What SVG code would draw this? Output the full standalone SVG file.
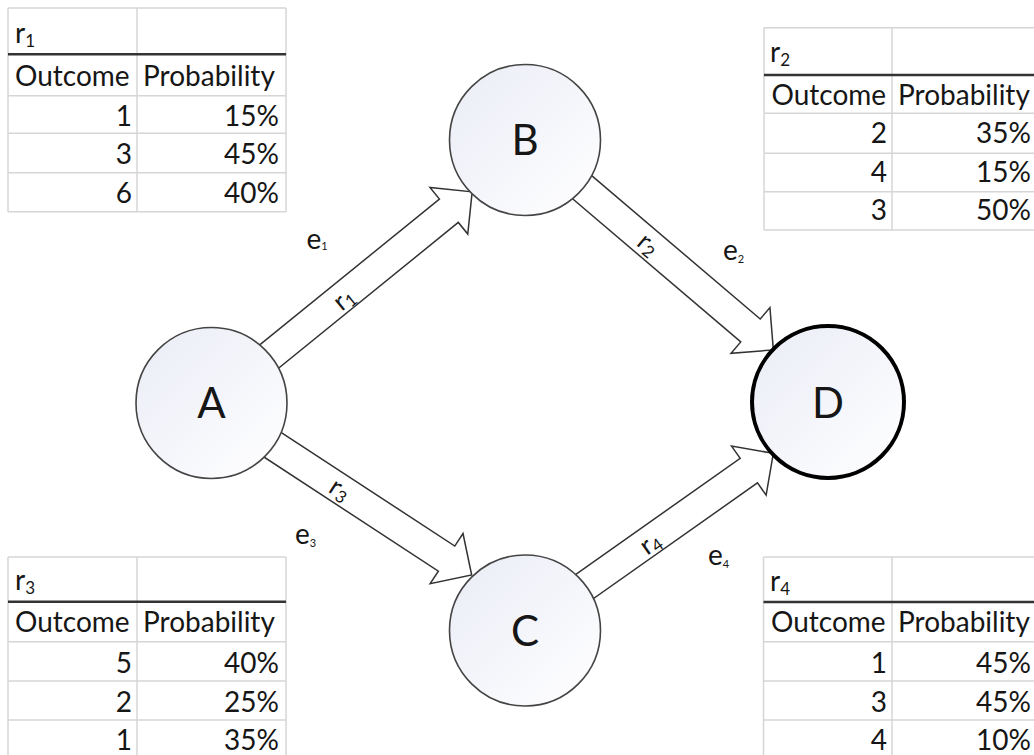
<svg xmlns="http://www.w3.org/2000/svg" width="1034" height="755" viewBox="0 0 1034 755">
<defs>
<linearGradient id="nodeFill" x1="0" y1="0" x2="1" y2="1">
<stop offset="0" stop-color="#eaecf6"/>
<stop offset="1" stop-color="#ffffff"/>
</linearGradient>
<style>
.grid{stroke:#d6d6d6;stroke-width:1.5;fill:none}
.hdr{stroke:#333;stroke-width:2.5;fill:none}
.t{font-family:Lato,"Liberation Sans",sans-serif;font-size:28px;fill:#161616}
.n{text-anchor:end}
.sub{font-size:17px}
.esub{font-size:11px}
.arrow{fill:#fff;stroke:#333;stroke-width:1.5;stroke-linejoin:miter}
.node{fill:url(#nodeFill);stroke:#444;stroke-width:1.6}
.nodeD{fill:url(#nodeFill);stroke:#000;stroke-width:4}
.nl{font-family:Lato,"Liberation Sans",sans-serif;font-size:42px;fill:#161616;text-anchor:middle}
.al{font-family:Lato,"Liberation Sans",sans-serif;font-size:26px;fill:#161616;text-anchor:middle}
</style>
</defs>
<rect width="1034" height="755" fill="#fff"/>

<g id="table-r1">
<path class="grid" d="M8,8V212M137,8V212M286,8V212M8,8H286M8,95.7H286M8,133.3H286M8,172.7H286M8,211.7H286"/>
<path class="hdr" d="M8,54.3H286"/>
<text class="t" x="15" y="43">r<tspan class="sub" dy="4">1</tspan></text>
<text class="t" x="15" y="86">Outcome</text>
<text class="t" x="143" y="86">Probability</text>
<text class="t n" x="132" y="126">1</text><text class="t n" x="279" y="126">15%</text>
<text class="t n" x="132" y="164">3</text><text class="t n" x="279" y="164">45%</text>
<text class="t n" x="132" y="203.3">6</text><text class="t n" x="279" y="203.3">40%</text>
</g>

<g id="table-r2">
<path class="grid" d="M764,27.7V230M892,27.7V230M1041,27.7V230M764,27.7H1041M764,113.3H1041M764,153.3H1041M764,191.7H1041M764,230H1041"/>
<path class="hdr" d="M764,75H1041"/>
<text class="t" x="770" y="62">r<tspan class="sub" dy="4">2</tspan></text>
<text class="t" x="771.5" y="105">Outcome</text>
<text class="t" x="898" y="105">Probability</text>
<text class="t n" x="887" y="143.3">2</text><text class="t n" x="1031" y="143.3">35%</text>
<text class="t n" x="887" y="181.7">4</text><text class="t n" x="1031" y="181.7">15%</text>
<text class="t n" x="887" y="220">3</text><text class="t n" x="1031" y="220">50%</text>
</g>

<g id="table-r3">
<path class="grid" d="M8,557V760M137,557V760M286,557V760M8,557H286M8,641.7H286M8,681H286M8,720H286"/>
<path class="hdr" d="M8,601.7H286"/>
<text class="t" x="15" y="590">r<tspan class="sub" dy="4">3</tspan></text>
<text class="t" x="15" y="631.7">Outcome</text>
<text class="t" x="143" y="631.7">Probability</text>
<text class="t n" x="132" y="673.3">5</text><text class="t n" x="279" y="673.3">40%</text>
<text class="t n" x="132" y="711.7">2</text><text class="t n" x="279" y="711.7">25%</text>
<text class="t n" x="132" y="750">1</text><text class="t n" x="279" y="750">35%</text>
</g>

<g id="table-r4">
<path class="grid" d="M763.5,557V760M892,557V760M1041,557V760M763.5,557H1041M763.5,641.7H1041M763.5,681H1041M763.5,720H1041"/>
<path class="hdr" d="M763.5,602H1041"/>
<text class="t" x="770" y="591">r<tspan class="sub" dy="4">4</tspan></text>
<text class="t" x="771" y="632.3">Outcome</text>
<text class="t" x="898" y="632.3">Probability</text>
<text class="t n" x="887" y="673.3">1</text><text class="t n" x="1031" y="673.3">45%</text>
<text class="t n" x="887" y="711.7">3</text><text class="t n" x="1031" y="711.7">45%</text>
<text class="t n" x="887" y="750">4</text><text class="t n" x="1031" y="750">10%</text>
</g>

<g id="connectors">
<g id="edge-AB" transform="translate(271,355) rotate(-39.04)">
<path class="arrow" d="M-20,-15H229V-30L259,0L229,30V15H-20Z"/>
<text class="al" x="92" y="11">r<tspan class="sub" dy="3">1</tspan></text>
</g>
<g id="edge-BD" transform="translate(582.5,187.5) rotate(40.4)">
<path class="arrow" d="M-20,-15H220.6V-30L250.6,0L220.6,30V15H-20Z"/>
<text class="al" x="87" y="9">r<tspan class="sub" dy="3">2</tspan></text>
</g>
<g id="edge-AC" transform="translate(274.2,445.8) rotate(33.2)">
<path class="arrow" d="M-20,-15H206V-30L236,0L206,30V15H-20Z"/>
<text class="al" x="79" y="9">r<tspan class="sub" dy="3">3</tspan></text>
</g>
<g id="edge-CD" transform="translate(586.7,585) rotate(-35.2)">
<path class="arrow" d="M-20,-15H198.4V-30L228.4,0L198.4,30V15H-20Z"/>
<text class="al" x="76" y="11">r<tspan class="sub" dy="3">4</tspan></text>
</g>
<text class="t" x="306.5" y="249">e<tspan class="esub" dy="1">1</tspan></text>
<text class="t" x="723" y="260">e<tspan class="esub" dy="3">2</tspan></text>
<text class="t" x="295" y="544">e<tspan class="esub" dy="3">3</tspan></text>
<text class="t" x="708" y="565">e<tspan class="esub" dy="3">4</tspan></text>
</g>

<g id="node-A"><circle class="node" cx="211.5" cy="403" r="75.5"/><text class="nl" x="211.5" y="418">A</text></g>
<g id="node-B"><circle class="node" cx="525" cy="140" r="75.5"/><text class="nl" x="525" y="155">B</text></g>
<g id="node-C"><circle class="node" cx="525" cy="630.5" r="75.5"/><text class="nl" x="525" y="645.5">C</text></g>
<g id="node-D"><circle class="nodeD" cx="828" cy="402" r="76"/><text class="nl" x="828" y="418">D</text></g>
</svg>
